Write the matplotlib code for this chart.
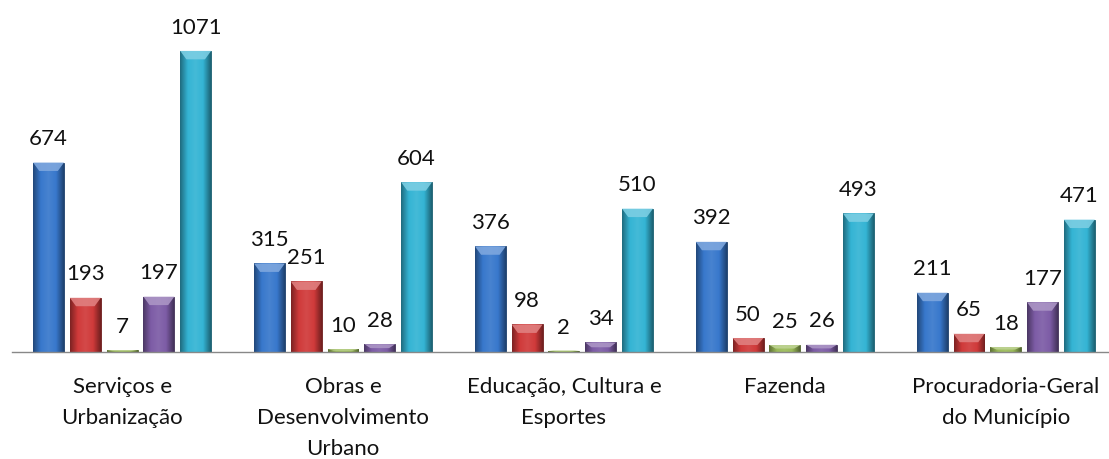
import numpy as np
import matplotlib
matplotlib.use("Agg")
import matplotlib.pyplot as plt
from matplotlib.colors import LinearSegmentedColormap, to_rgb
from matplotlib.patches import Polygon

# Categorias (secretarias) e valores de cada série
categorias = ["Serviços e\nUrbanização", "Obras e\nDesenvolvimento\nUrbano",
              "Educação, Cultura e\nEsportes", "Fazenda",
              "Procuradoria-Geral\ndo Município"]
serie_azul = [674, 315, 376, 392, 211]
serie_vermelha = [193, 251, 98, 50, 65]
serie_verde = [7, 10, 2, 25, 18]
serie_roxa = [197, 28, 34, 26, 177]
serie_ciano = [1071, 604, 510, 493, 471]

series = [serie_azul, serie_vermelha, serie_verde, serie_roxa, serie_ciano]
cores = ["#3878cc", "#d03a3a", "#9bbb59", "#7d5ca6", "#34b4d4"]

plt.rcParams['font.family'] = ['Lato', 'DejaVu Sans']

fig = plt.figure(figsize=(11.09, 4.59), dpi=100)
ax = fig.add_axes([0.0105, 0.233, 0.996, 0.767])

x = np.arange(len(categorias))
passo = 0.1665
largura = 0.14
ymax = 1252


def escurecer(c, f):
    r, g, b = to_rgb(c)
    return (r * f, g * f, b * f)


def clarear(c, f):
    r, g, b = to_rgb(c)
    return (r + (1 - r) * f, g + (1 - g) * f, b + (1 - b) * f)


for i, (valores, cor) in enumerate(zip(series, cores)):
    cmap = LinearSegmentedColormap.from_list(
        "g", [escurecer(cor, 0.6), cor, clarear(cor, 0.08), cor, escurecer(cor, 0.55)])
    grad = np.linspace(0, 1, 64).reshape(1, -1)
    pos = x + (i - 2) * passo
    barras = ax.bar(pos, valores, largura, color=cor, edgecolor=escurecer(cor, 0.5),
                    linewidth=0.6, zorder=2)
    for b, v in zip(barras, valores):
        x0 = b.get_x()
        x1 = x0 + b.get_width()
        h = max(v, 6)
        im = ax.imshow(grad, extent=[x0, x1, 0, h], aspect='auto', cmap=cmap, zorder=3)
        im.set_clip_path(b)
        # chanfro claro no topo
        bev = min(30, h * 0.5)
        w = b.get_width()
        tri = Polygon([[x0, h], [x1, h], [x1 - w * 0.2, h - bev], [x0 + w * 0.2, h - bev]],
                      closed=True, facecolor=clarear(cor, 0.35), edgecolor='none',
                      alpha=0.9, zorder=4)
        ax.add_patch(tri)
        ax.annotate(f"{v}", (b.get_x() + w / 2, v), xytext=(0, 12.5),
                    textcoords='offset points', ha='center', va='baseline',
                    fontsize=16, color='#111111', zorder=5)

ax.set_xlim(-0.5, 4.5)
ax.set_ylim(0, ymax)
ax.set_yticks([])
ax.set_xticks(x)
ax.set_xticklabels(categorias, fontsize=16, linespacing=1.68, color='#111111')
ax.tick_params(axis='x', length=0, pad=18)
for lado in ['top', 'right', 'left']:
    ax.spines[lado].set_visible(False)
ax.spines['bottom'].set_color('#888888')
ax.spines['bottom'].set_linewidth(1.0)
ax.spines['bottom'].set_zorder(6)

plt.savefig("out.png", dpi=100)
